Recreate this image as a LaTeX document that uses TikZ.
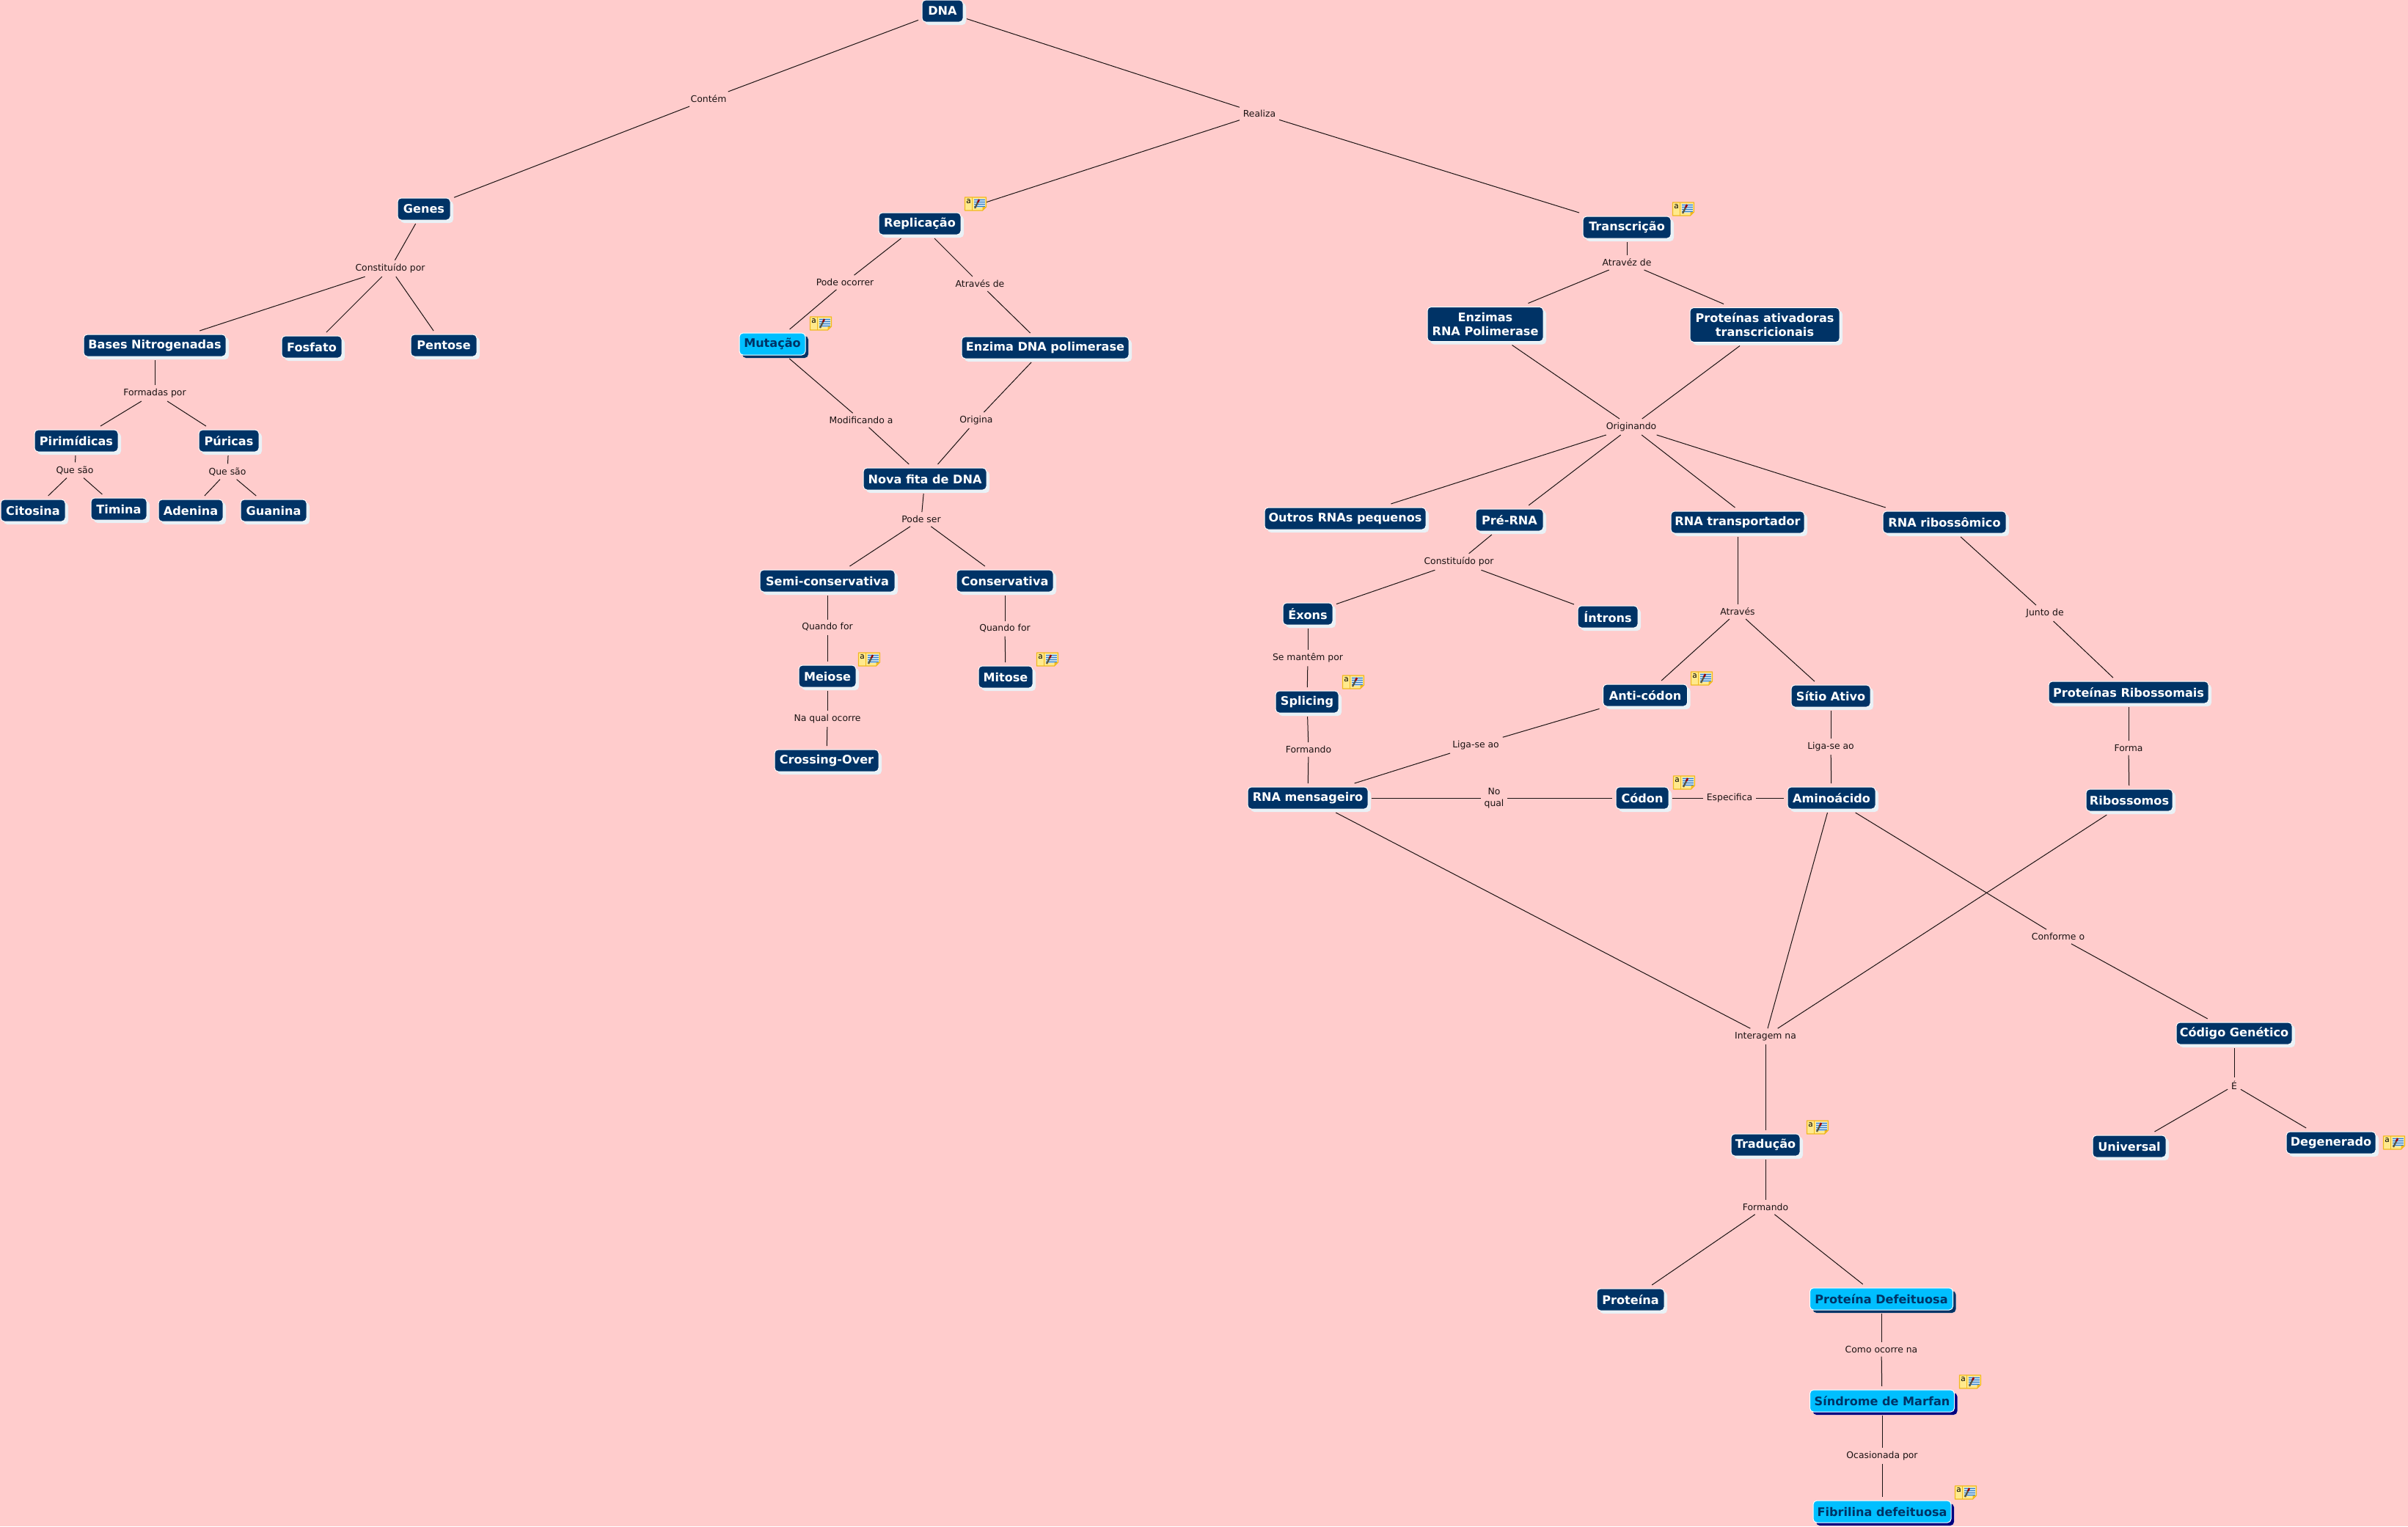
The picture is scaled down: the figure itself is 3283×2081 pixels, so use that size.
\documentclass[tikz,border=0pt]{standalone}
\usepackage{fontspec}
\setmainfont{DejaVu Sans}
\usetikzlibrary{shadows}
\definecolor{bg}{HTML}{FFCCCC}
\definecolor{navy}{HTML}{003366}
\definecolor{sky}{HTML}{00BFFF}
\definecolor{pale}{HTML}{E9F1F6}
\definecolor{deep}{HTML}{000080}
\definecolor{inkline}{HTML}{1A1212}
\definecolor{noteyel}{HTML}{FFE98C}
\definecolor{notepale}{HTML}{FFF3B8}
\definecolor{noteedge}{HTML}{F0B820}
\definecolor{noteblue}{HTML}{2F7FC4}
\tikzset{
  x=1pt,y=-1pt,
  concept/.style={rounded corners=5pt,draw=white,line width=1pt,fill=navy,text=white,
    font=\fontsize{16.1}{19}\selectfont\bfseries,align=center,inner sep=0pt,outer sep=5pt,
    minimum height=30pt,general shadow={shadow xshift=4pt,shadow yshift=-4pt,fill=pale}},
  tall/.style={minimum height=47pt},
  alert/.style={fill=sky,text=navy,general shadow={shadow xshift=4pt,shadow yshift=-4pt,fill=navy}},
  alertdeep/.style={fill=sky,text=navy,general shadow={shadow xshift=4pt,shadow yshift=-4pt,fill=deep}},
  linkword/.style={text=inkline,font=\fontsize{12.4}{16}\selectfont,align=center,inner sep=3pt,outer sep=2pt},
  conn/.style={draw=inkline,line width=1pt},
  note/.pic={
    \fill[noteyel] (-14.5,-9) -- (14.5,-9) -- (14.5,4) -- (9.5,9) -- (-14.5,9) -- cycle;
    \fill[white!70!noteblue] (-2,-7) rectangle (13,5);
    \foreach \yy in {-5.5,-2.5,0.5,3.5}{\draw[line width=1.3pt,noteblue] (-2,\yy) -- (13,\yy);}
    \draw[noteedge,line width=1.2pt,line join=round] (-14.5,-9) -- (14.5,-9) -- (14.5,4) -- (9.5,9) -- (-14.5,9) -- cycle;
    \draw[noteedge,line width=.6pt] (-4.5,-9) -- (-4.5,9);
    \fill[noteedge] (14.5,4) -- (9.5,4) -- (9.5,9) -- cycle;
    \draw[line width=2.2pt,black!75!yellow] (-1,6) -- (3,-2);
    \draw[line width=2.4pt,red!60!black] (3,-2) -- (5,-6);
    \node[inner sep=0pt,font=\fontsize{10.5}{10.5}\selectfont,text=black] (-a) at (-9.5,-3) {a};
  }
}
\begin{document}
\begin{tikzpicture}
\fill[bg] (0,0) rectangle (3283,2081);
\useasboundingbox (0,0) rectangle (3283,2081);
% concepts
\foreach \nm/\xx/\yy/\ww/\tx in {
 dna/1285/15/56/DNA, genes/578/285/72/Genes, repl/1254/305/112/Replicação, trans/2218/310/120/Transcrição,
 bases/211/471/194/Bases Nitrogenadas, fosfato/425/473/82/Fosfato, pentose/605/471/90/Pentose,
 pirim/104/601/114/Pirimídicas, puric/312/601/82/Púricas, cito/45/696/88/Citosina, timi/162/694/76/Timina,
 aden/260/696/88/Adenina, guan/373/696/90/Guanina,
 enzpol/1425/474/228/Enzima DNA polimerase, novafita/1261/653/168/Nova fita de DNA,
 semi/1128/792/184/Semi-conservativa, conser/1370/792/132/Conservativa, meiose/1128/922/78/Meiose, mitose/1371/923/74/Mitose,
 cross/1127/1037/142/Crossing-Over,
 outros/1834/707/220/Outros RNAs pequenos, prerna/2058/709/92/Pré-RNA, rnat/2369/712/182/RNA transportador, rnar/2651/712/168/RNA ribossômico,
 exons/1783/837/68/Éxons, introns/2192/841/82/Íntrons, splic/1782/957/86/Splicing, rnam/1783/1088/164/RNA mensageiro,
 anti/2243/948/115/Anti-códon, sitio/2496/949/108/Sítio Ativo, codon/2239/1088/72/Códon, amino/2497/1088/120/Aminoácido,
 protrib/2902/944/218/Proteínas Ribossomais, ribo/2903/1091/118/Ribossomos, codgen/3046/1409/158/Código Genético,
 univ/2903/1563/100/Universal, degen/3178/1558/122/Degenerado, trad/2407/1561/94/Tradução, prot/2223/1772/92/Proteína}
 {\node[concept,minimum width=\ww pt] (\nm) at (\xx,\yy) {\tx};}
\node[concept,tall,minimum width=158pt] (enzrna) at (2025,442) {Enzimas\\RNA Polimerase};
\node[concept,tall,minimum width=204pt] (protat) at (2406,443) {Proteínas ativadoras\\transcricionais};
\node[concept,alert,minimum width=90pt] (muta) at (1053,469) {Mutação};
\node[concept,alert,minimum width=195pt] (protdef) at (2565,1771) {Proteína Defeituosa};
\node[concept,alertdeep,minimum width=197pt] (marfan) at (2566,1910) {Síndrome de Marfan};
\node[concept,alertdeep,minimum width=188pt] (fibri) at (2566,2061) {Fibrilina defeituosa};
% linking words
\foreach \nm/\xx/\yy/\tx in {
 lcontem/966/135/Contém, lrealiza/1717/155/Realiza, lconst/532/366/Constituído por, lformadas/211/536/Formadas por,
 lquea/102/641/Que são, lqueb/310/643/Que são, lpode/1152/385/Pode ocorrer, latr/1336/387/Através de,
 lmod/1174/573/Modificando a, lorig/1331/573/Origina, lser/1256/708/Pode ser, lqa/1128/855/Quando for, lqb/1370/857/Quando for,
 lnaq/1128/980/Na qual ocorre, latrz/2218/358/Atravéz de, lorigi/2224/582/Originando, lcons/1989/766/Constituído por,
 lsem/1783/897/Se mantêm por, latra/2369/834/Através, ljunto/2788/836/Junto de, lforma/1784/1022/Formando,
 lligb/2012/1016/Liga-se ao, lliga/2496/1018/Liga-se ao, lesp/2358/1088/Especifica, lfor/2902/1020/Forma,
 lconf/2806/1277/Conforme o, linter/2407/1413/Interagem na, le/3046/1480/É, lform/2407/1646/Formando,
 lcomo/2565/1840/Como ocorre na, locas/2566/1985/Ocasionada por}
 {\node[linkword] (\nm) at (\xx,\yy) {\tx};}
\node[linkword] (lnoq) at (2037,1088) {No\\qual};
% connectors
\foreach \a/\b in {dna/lcontem,lcontem/genes,dna/lrealiza,lrealiza/repl,lrealiza/trans,genes/lconst,lconst/bases,lconst/fosfato,lconst/pentose,
 bases/lformadas,lformadas/pirim,lformadas/puric,pirim/lquea,lquea/cito,lquea/timi,puric/lqueb,lqueb/aden,lqueb/guan,
 repl/lpode,lpode/muta,repl/latr,latr/enzpol,muta/lmod,lmod/novafita,enzpol/lorig,lorig/novafita,novafita/lser,lser/semi,lser/conser,
 semi/lqa,lqa/meiose,conser/lqb,lqb/mitose,meiose/lnaq,lnaq/cross,
 trans/latrz,latrz/enzrna.26,latrz/protat.153,lorigi/enzrna.-38,lorigi/protat.-140,lorigi/outros,lorigi/prerna,lorigi/rnat.100,lorigi/rnar.166,
 prerna/lcons,lcons/exons,lcons/introns,exons/lsem,lsem/splic,splic/lforma,lforma/rnam,
 rnat/latra,latra/anti,latra/sitio,anti/lligb,lligb/rnam,sitio/lliga,lliga/amino,rnam/lnoq,lnoq/codon,codon/lesp,lesp/amino,
 rnar/ljunto,ljunto/protrib,protrib/lfor,lfor/ribo,amino/lconf,lconf/codgen,codgen/le,le/univ,le/degen,
 rnam/linter,amino/linter,ribo/linter,linter/trad,trad/lform,lform/prot,lform/protdef,protdef/lcomo,lcomo/marfan,marfan/locas,locas/fibri}
 {\draw[conn] (\a) -- (\b);}
% note icons
\pic (na) at (1330,278) {note};
\pic (nb) at (1119,441) {note};
\pic (nc) at (2295,285) {note};
\pic (nd) at (1185,899) {note};
\pic (ne) at (1428,899) {note};
\pic (nf) at (1845,930) {note};
\pic (ng) at (2320,925) {note};
\pic (nh) at (2296,1067) {note};
\pic (ni) at (2478,1537) {note};
\pic (nj) at (3264,1558) {note};
\pic (nk) at (2686,1884) {note};
\pic (nl) at (2680,2035) {note};
\end{tikzpicture}
\end{document}
